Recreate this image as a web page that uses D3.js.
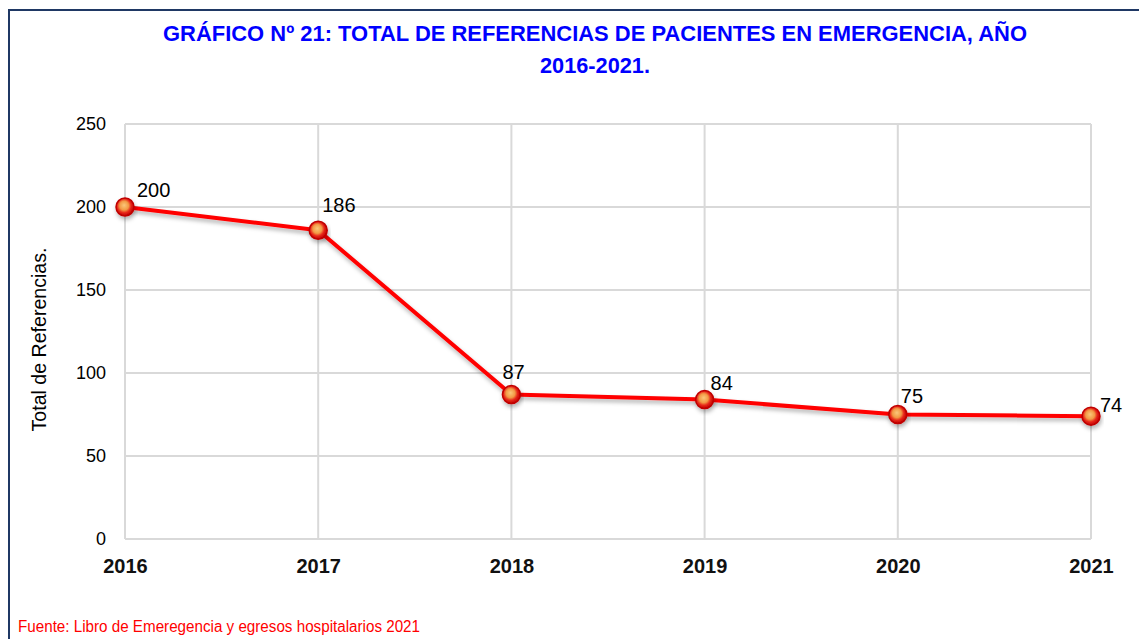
<!DOCTYPE html>
<html>
<head>
<meta charset="utf-8">
<script src="https://cdn.jsdelivr.net/npm/d3@7"></script>
<style>
  body { margin: 0; background: #fff; }
  text { font-family: "Liberation Sans", Arial, sans-serif; }
</style>
</head>
<body>
<script>
// Data
const years = ["2016", "2017", "2018", "2019", "2020", "2021"];
const values = [200, 186, 87, 84, 75, 74];
const yTicks = [0, 50, 100, 150, 200, 250];

const width = 1139, height = 639;
const margin = {top: 124, right: 48, bottom: 100, left: 125};

const svg = d3.select("body").append("svg")
    .attr("width", width)
    .attr("height", height)
    .attr("viewBox", [0, 0, width, height]);

const defs = svg.append("defs");
const grad = defs.append("radialGradient")
    .attr("id", "ball").attr("cx", "45%").attr("cy", "45%").attr("r", "55%")
    .attr("fx", "45%").attr("fy", "40%");
grad.append("stop").attr("offset", "0%").attr("stop-color", "#fbc77a");
grad.append("stop").attr("offset", "45%").attr("stop-color", "#f29a45");
grad.append("stop").attr("offset", "70%").attr("stop-color", "#e8281a");
grad.append("stop").attr("offset", "100%").attr("stop-color", "#c00000");

const shadow = defs.append("filter").attr("id", "shadow")
    .attr("x", "-20%").attr("y", "-20%").attr("width", "140%").attr("height", "160%");
shadow.append("feDropShadow").attr("dx", 1).attr("dy", 3).attr("stdDeviation", 2)
    .attr("flood-color", "#000").attr("flood-opacity", 0.3);

// frame
svg.append("rect")
    .attr("x", 9).attr("y", 10).attr("width", width + 20).attr("height", height + 20)
    .attr("fill", "none").attr("stroke", "#1f3864").attr("stroke-width", 2);

// title (condensed look via textLength)
svg.append("text")
    .attr("x", 163).attr("y", 41)
    .attr("fill", "#0000ff")
    .attr("font-size", 22).attr("font-weight", "bold")
    .attr("textLength", 864).attr("lengthAdjust", "spacingAndGlyphs")
    .text("GRÁFICO Nº 21: TOTAL DE REFERENCIAS DE PACIENTES EN EMERGENCIA, AÑO");
svg.append("text")
    .attr("x", 540).attr("y", 73)
    .attr("fill", "#0000ff")
    .attr("font-size", 22).attr("font-weight", "bold")
    .attr("textLength", 110).attr("lengthAdjust", "spacingAndGlyphs")
    .text("2016-2021.");

const x = d3.scalePoint()
    .domain(years)
    .range([margin.left, width - margin.right]);

const y = d3.scaleLinear()
    .domain([0, 250])
    .range([height - margin.bottom, margin.top]);

// grid lines
svg.append("g")
    .selectAll("line")
    .data(yTicks)
    .join("line")
    .attr("x1", margin.left).attr("x2", width - margin.right)
    .attr("y1", d => y(d)).attr("y2", d => y(d))
    .attr("stroke", "#d9d9d9").attr("stroke-width", 2);

svg.append("g")
    .selectAll("line")
    .data(years)
    .join("line")
    .attr("x1", d => x(d)).attr("x2", d => x(d))
    .attr("y1", y(250)).attr("y2", y(0))
    .attr("stroke", "#d9d9d9").attr("stroke-width", 2);

// y axis labels
const yAxis = svg.append("g")
    .attr("transform", `translate(${margin.left - 19},0)`)
    .call(d3.axisLeft(y).tickValues(yTicks).tickSize(0).tickPadding(0));
yAxis.select(".domain").remove();
yAxis.selectAll("text")
    .attr("font-size", 18).attr("fill", "#000")
    .attr("font-family", "Liberation Sans, Arial, sans-serif");

// x axis labels
const xAxis = svg.append("g")
    .attr("transform", `translate(0,${y(0) + 20})`)
    .call(d3.axisBottom(x).tickSize(0).tickPadding(0));
xAxis.select(".domain").remove();
xAxis.selectAll("text")
    .attr("font-size", 20).attr("font-weight", "bold").attr("fill", "#111")
    .attr("font-family", "Liberation Sans, Arial, sans-serif");

// y axis title
svg.append("text")
    .attr("transform", `translate(46,${(y(0) + y(250)) / 2 + 8}) rotate(-90)`)
    .attr("text-anchor", "middle")
    .attr("font-size", 21).attr("fill", "#000")
    .attr("textLength", 184).attr("lengthAdjust", "spacingAndGlyphs")
    .text("Total de Referencias.");

// line
const line = d3.line()
    .x((d, i) => x(years[i]))
    .y(d => y(d));

svg.append("path")
    .datum(values)
    .attr("d", line)
    .attr("fill", "none")
    .attr("stroke", "#ff0000")
    .attr("stroke-width", 4)
    .attr("stroke-linejoin", "round")
    .attr("filter", "url(#shadow)");

// markers
svg.append("g")
    .selectAll("circle")
    .data(values)
    .join("circle")
    .attr("cx", (d, i) => x(years[i]))
    .attr("cy", d => y(d))
    .attr("r", 9)
    .attr("fill", "url(#ball)")
    .attr("stroke", "#c00000")
    .attr("stroke-width", 1.5)
    .attr("filter", "url(#shadow)");

// data labels (offsets relative to each point)
const labelDx = [12, 4, -9, 6, 3, 9];
const labelDy = [-10, -18, -16, -10, -12, -4];
svg.append("g")
    .selectAll("text")
    .data(values)
    .join("text")
    .attr("x", (d, i) => x(years[i]) + labelDx[i])
    .attr("y", (d, i) => y(d) + labelDy[i])
    .attr("font-size", 20).attr("fill", "#000")
    .text(d => d);

// source
svg.append("text")
    .attr("x", 18).attr("y", 632)
    .attr("font-size", 16).attr("fill", "#ff0000")
    .attr("textLength", 402).attr("lengthAdjust", "spacingAndGlyphs")
    .text("Fuente: Libro de Emeregencia y egresos hospitalarios 2021");
</script>
</body>
</html>
